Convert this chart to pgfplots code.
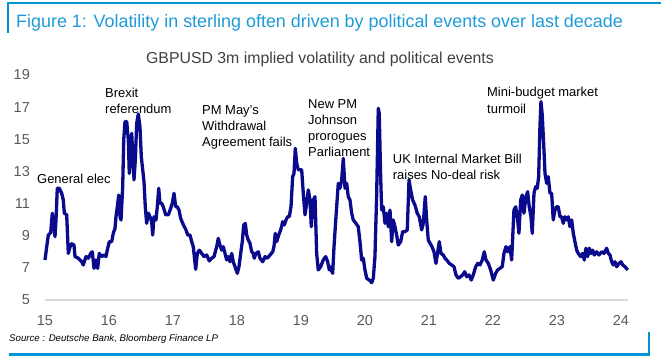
\documentclass[border=0pt]{standalone}
\usepackage{pgfplots}
\pgfplotsset{compat=1.18}
\usepackage{fontspec}
\setmainfont{Liberation Sans}
\definecolor{frameblue}{RGB}{0,150,214}
\definecolor{titleblue}{RGB}{30,155,215}
\definecolor{navy}{RGB}{10,10,140}
\definecolor{ticklab}{RGB}{89,89,89}
\definecolor{subgray}{RGB}{64,64,64}
\begin{document}
\begin{tikzpicture}
\useasboundingbox (0,0) rectangle (661bp,360bp);
\begin{axis}[
  at={(45bp,60bp)}, anchor=south west,
  scale only axis, width=583bp, height=225bp,
  xmin=15, xmax=24.11, ymin=5, ymax=19,
  clip=false,
  axis x line*=bottom, axis y line*=left,
  x axis line style={draw={rgb,255:red,217;green,217;blue,217}, line width=1.3bp},
  y axis line style={draw=none},
  xtick={15,16,...,24}, ytick={5,7,...,19},
  major tick length=0pt,
  /pgf/number format/assume math mode=true,
  tick label style={font=\fontsize{14.5}{16}\selectfont, text=ticklab},
  xticklabel style={anchor=north, inner sep=0pt, yshift=-15bp},
  yticklabel style={anchor=east, inner sep=0pt, xshift=-15bp},
]
\addplot[navy, line width=3.3bp, line join=round] coordinates {
(15.000,7.49)(15.027,8.32)(15.052,9.04)(15.089,9.19)(15.114,10.40)(15.141,9.56)(15.156,8.94)(15.172,9.98)(15.192,11.95)(15.223,11.95)(15.261,11.64)(15.286,11.22)(15.302,10.40)(15.339,10.30)(15.364,7.90)(15.391,8.30)(15.417,8.50)(15.453,8.42)(15.469,7.70)(15.520,7.60)(15.573,7.38)(15.598,7.18)(15.641,7.70)(15.677,7.60)(15.714,7.90)(15.739,8.00)(15.766,6.97)(15.797,7.49)(15.823,6.97)(15.848,7.90)(15.886,7.70)(15.922,7.80)(15.953,7.70)(15.973,8.10)
(16.005,8.63)(16.042,8.63)(16.067,9.15)(16.094,9.46)(16.109,10.18)(16.130,10.80)(16.152,11.53)(16.172,10.18)(16.188,9.98)(16.214,12.05)(16.230,14.96)(16.250,16.10)(16.277,16.10)(16.302,14.96)(16.317,12.88)(16.339,13.90)(16.355,15.37)(16.370,14.13)(16.391,12.47)(16.411,13.70)(16.433,16.00)(16.458,16.57)(16.484,15.78)(16.505,13.90)(16.527,13.10)(16.547,12.36)(16.567,10.80)(16.589,9.77)(16.614,10.40)(16.641,10.18)(16.667,9.87)(16.683,9.04)(16.703,10.18)(16.734,9.98)(16.755,10.80)(16.777,11.95)(16.797,11.02)(16.823,11.02)(16.848,10.80)(16.886,10.30)(16.927,10.30)(16.964,10.70)(16.989,11.02)
(17.016,11.64)(17.042,10.80)(17.067,10.80)(17.094,10.60)(17.120,10.08)(17.152,9.77)(17.177,9.56)(17.203,9.36)(17.230,9.04)(17.266,9.04)(17.292,8.63)(17.317,8.32)(17.339,7.49)(17.355,6.91)(17.380,7.90)(17.411,8.10)(17.448,7.90)(17.484,7.70)(17.527,7.80)(17.567,7.43)(17.605,7.60)(17.641,7.70)(17.683,8.32)(17.708,8.84)(17.734,8.42)(17.761,8.10)(17.786,8.32)(17.813,7.90)(17.839,7.49)(17.864,7.70)(17.891,7.38)(17.917,7.90)(17.942,7.38)(17.969,7.07)
(18.005,6.66)(18.031,7.07)(18.058,7.90)(18.083,8.63)(18.105,9.67)(18.130,9.77)(18.152,9.04)(18.177,8.73)(18.203,8.53)(18.230,8.00)(18.255,7.90)(18.270,7.60)(18.297,7.90)(18.333,8.00)(18.359,7.60)(18.402,7.38)(18.438,7.70)(18.473,7.60)(18.516,7.80)(18.558,8.00)(18.578,8.32)(18.598,9.15)(18.620,8.63)(18.652,9.04)(18.683,9.36)(18.714,9.87)(18.739,9.67)(18.766,9.98)(18.792,10.18)(18.817,10.18)(18.844,10.80)(18.870,12.67)(18.891,12.88)(18.911,14.44)(18.933,13.50)(18.958,13.10)(18.984,13.10)
(19.011,13.10)(19.036,11.64)(19.063,10.30)(19.089,11.02)(19.114,11.85)(19.141,11.22)(19.161,9.56)(19.192,11.22)(19.219,11.43)(19.245,7.90)(19.270,6.87)(19.308,7.07)(19.348,7.49)(19.386,7.70)(19.417,7.38)(19.442,6.87)(19.453,7.07)(19.495,6.66)(19.516,8.32)(19.547,10.18)(19.583,12.26)(19.609,11.95)(19.636,12.47)(19.661,13.81)(19.688,11.95)(19.714,12.26)(19.739,11.43)(19.766,11.22)(19.792,10.40)(19.817,9.98)(19.859,9.77)(19.895,9.56)(19.922,8.63)(19.948,7.49)(19.973,7.60)
(20.000,6.87)(20.027,6.35)(20.067,6.24)(20.105,6.08)(20.130,6.35)(20.156,7.70)(20.183,11.64)(20.208,16.93)(20.223,16.62)(20.245,12.67)(20.261,10.60)(20.286,10.80)(20.313,9.77)(20.339,10.40)(20.364,9.56)(20.391,10.60)(20.417,8.63)(20.442,9.98)(20.469,9.56)(20.495,9.04)(20.520,8.42)(20.558,8.63)(20.589,9.25)(20.625,9.25)(20.661,9.36)(20.688,12.47)(20.714,11.85)(20.745,11.22)(20.781,10.91)(20.817,10.40)(20.848,10.18)(20.886,9.36)(20.911,9.77)(20.942,11.43)(20.964,9.98)(20.989,8.73)
(21.016,8.53)(21.047,8.32)(21.078,8.00)(21.109,7.28)(21.130,7.80)(21.161,8.63)(21.188,7.90)(21.223,7.80)(21.250,7.60)(21.277,7.49)(21.317,7.28)(21.355,7.18)(21.391,7.07)(21.422,6.56)(21.458,6.35)(21.495,6.45)(21.527,6.56)(21.558,6.76)(21.589,6.45)(21.625,6.56)(21.661,6.24)(21.692,6.56)(21.730,7.07)(21.761,7.28)(21.797,7.18)(21.833,7.49)(21.864,8.00)(21.891,7.49)(21.927,7.28)(21.964,6.87)
(22.005,6.24)(22.042,6.66)(22.073,6.87)(22.109,6.97)(22.145,7.07)(22.172,7.90)(22.203,8.32)(22.230,8.00)(22.266,8.32)(22.292,7.49)(22.328,10.60)(22.355,10.80)(22.380,10.18)(22.406,9.15)(22.433,11.22)(22.458,11.53)(22.484,10.40)(22.516,11.43)(22.542,11.74)(22.567,10.80)(22.594,10.18)(22.614,9.15)(22.641,11.64)(22.667,12.05)(22.692,11.95)(22.714,12.67)(22.734,15.78)(22.750,17.35)(22.770,16.51)(22.792,14.75)(22.813,12.88)(22.839,12.26)(22.864,12.67)(22.891,11.64)(22.917,11.64)(22.942,9.98)(22.969,10.60)(22.995,10.80)
(23.020,10.80)(23.047,10.18)(23.073,10.18)(23.098,9.77)(23.125,10.18)(23.152,9.98)(23.177,10.18)(23.203,9.56)(23.230,9.98)(23.255,9.15)(23.281,8.63)(23.308,8.10)(23.333,7.90)(23.370,7.70)(23.402,7.90)(23.427,7.49)(23.453,8.22)(23.480,7.70)(23.505,8.22)(23.531,7.90)(23.558,8.10)(23.583,7.80)(23.620,8.00)(23.656,7.80)(23.698,8.00)(23.734,7.90)(23.777,8.22)(23.802,7.90)(23.828,7.80)(23.855,7.38)(23.880,7.18)(23.906,7.38)(23.933,7.07)(23.969,7.28)
(24.000,7.38)(24.027,7.18)(24.063,7.07)(24.105,6.87)
};
\end{axis}
\begin{scope}[x=1bp, y=-1bp, yshift=360bp]
  % frame
  \draw[frameblue, line width=2.4bp] (8,33) -- (8,3) -- (661,3);
  \draw[frameblue, line width=2.4bp] (9,354.5) -- (649,354.5) -- (649,332);
  % title
  \node[anchor=base west, inner sep=0pt, text=titleblue, font=\fontsize{18}{20}\selectfont] at (16,27.6) {Figure 1: Volatility in sterling often driven by political events over last decade};
  % subtitle
  \node[anchor=base, inner sep=0pt, text=subgray, font=\fontsize{15.9}{18}\selectfont] at (320,64) {GBPUSD 3m implied volatility and political events};
  % source
  \node[anchor=base west, inner sep=0pt, font=\fontsize{9.7}{11}\selectfont\itshape] at (9,341.5) {Source : Deutsche Bank, Bloomberg Finance LP};
  % annotations
  \tikzset{ann/.style={anchor=base west, inner sep=0pt, font=\fontsize{13}{16}\selectfont}}
  \node[ann] at (37,183.5) {General elec};
  \node[ann] at (105,97.5) {Brexit};
  \node[ann] at (105,113.5) {referendum};
  \node[ann] at (202,114.5) {PM May's};
  \node[ann] at (202,130.5) {Withdrawal};
  \node[ann] at (202,146.5) {Agreement fails};
  \node[ann] at (308,108.5) {New PM};
  \node[ann] at (308,124.5) {Johnson};
  \node[ann] at (308,140.5) {prorogues};
  \node[ann] at (308,156.5) {Parliament};
  \node[ann] at (392.7,163.5) {UK Internal Market Bill};
  \node[ann] at (392.7,180) {raises No-deal risk};
  \node[ann] at (487,96.5) {Mini-budget market};
  \node[ann] at (487,113.5) {turmoil};
\end{scope}
\end{tikzpicture}
\end{document}
